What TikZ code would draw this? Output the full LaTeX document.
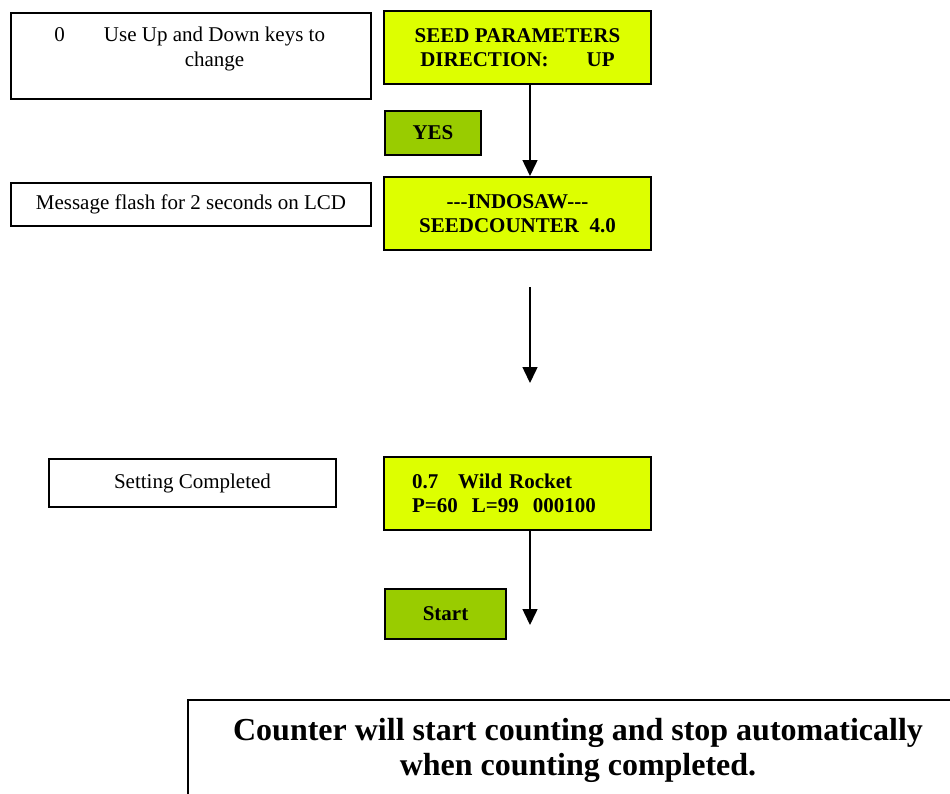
\documentclass[tikz,border=0pt]{standalone}
\usepackage{fontspec}
\setmainfont{Liberation Serif}
\usetikzlibrary{arrows.meta}
\definecolor{lcdyellow}{RGB}{221,255,0}
\definecolor{keygreen}{RGB}{153,204,0}
\tikzset{
  box/.style={draw=black, line width=2pt, inner sep=0pt, anchor=north west, font=\fontsize{21}{25}\selectfont},
  lcd/.style={box, fill=lcdyellow, minimum width=267pt, minimum height=73pt, align=center, font=\fontsize{21}{24}\selectfont\bfseries},
  keybox/.style={box, fill=keygreen, font=\fontsize{21}{25}\selectfont\bfseries},
  plain/.style={box, fill=white},
  flow/.style={line width=1.5pt, -{Triangle[width=15pt,length=16pt]}}
}
\begin{document}
\begin{tikzpicture}[x=1pt,y=-1pt]
\useasboundingbox (0,0) rectangle (950,793);
% left column
\node[plain, minimum width=360pt, minimum height=86pt] (help) at (10,12) {};
\node[anchor=base, align=center, font=\fontsize{21}{25}\selectfont] (helptxt) at (214.5,66)
  {\makebox[0pt][r]{0\hspace{39pt}}Use Up and Down keys to\\change};
\node[plain, minimum width=360pt, minimum height=43pt] (msg) at (10,182) {Message flash for 2 seconds on LCD};
\node[plain, minimum width=287pt, minimum height=48pt] (done) at (48,458) {Setting Completed};
% right column
\node[lcd] (seed) at (383,10) {SEED PARAMETERS\\DIRECTION:\hspace{38pt}UP};
\node[keybox, minimum width=96pt, minimum height=44pt] (yes) at (384,110) {YES};
\node[lcd] (indo) at (383,176) {-{}-{}-INDOSAW-{}-{}-\\SEEDCOUNTER\ \ 4.0};
\node[lcd, align=left, text width=211pt, inner xsep=28pt] (wild) at (383,456)
  {0.7\hspace{20pt}Wild Rocket\\P=60\hspace{14pt}L=99\hspace{14pt}000100};
\node[keybox, minimum width=121pt, minimum height=50pt] (start) at (384,588) {Start};
\node[plain, minimum width=800pt, minimum height=140pt] (final) at (187,699) {};
\node[anchor=base, align=center, font=\fontsize{32}{35}\selectfont\bfseries] (finaltxt) at (578,775)
  {Counter will start counting and stop automatically\\when counting completed.};
% connectors
\coordinate (a1) at (530,287);
\coordinate (a2) at (530,383);
\coordinate (a3) at (530,625);
\draw[flow] (seed.south -| a1) -- (indo.north -| a1);
\draw[flow] (a1) -- (a2);
\draw[flow] (wild.south -| a3) -- (a3);
\end{tikzpicture}
\end{document}
